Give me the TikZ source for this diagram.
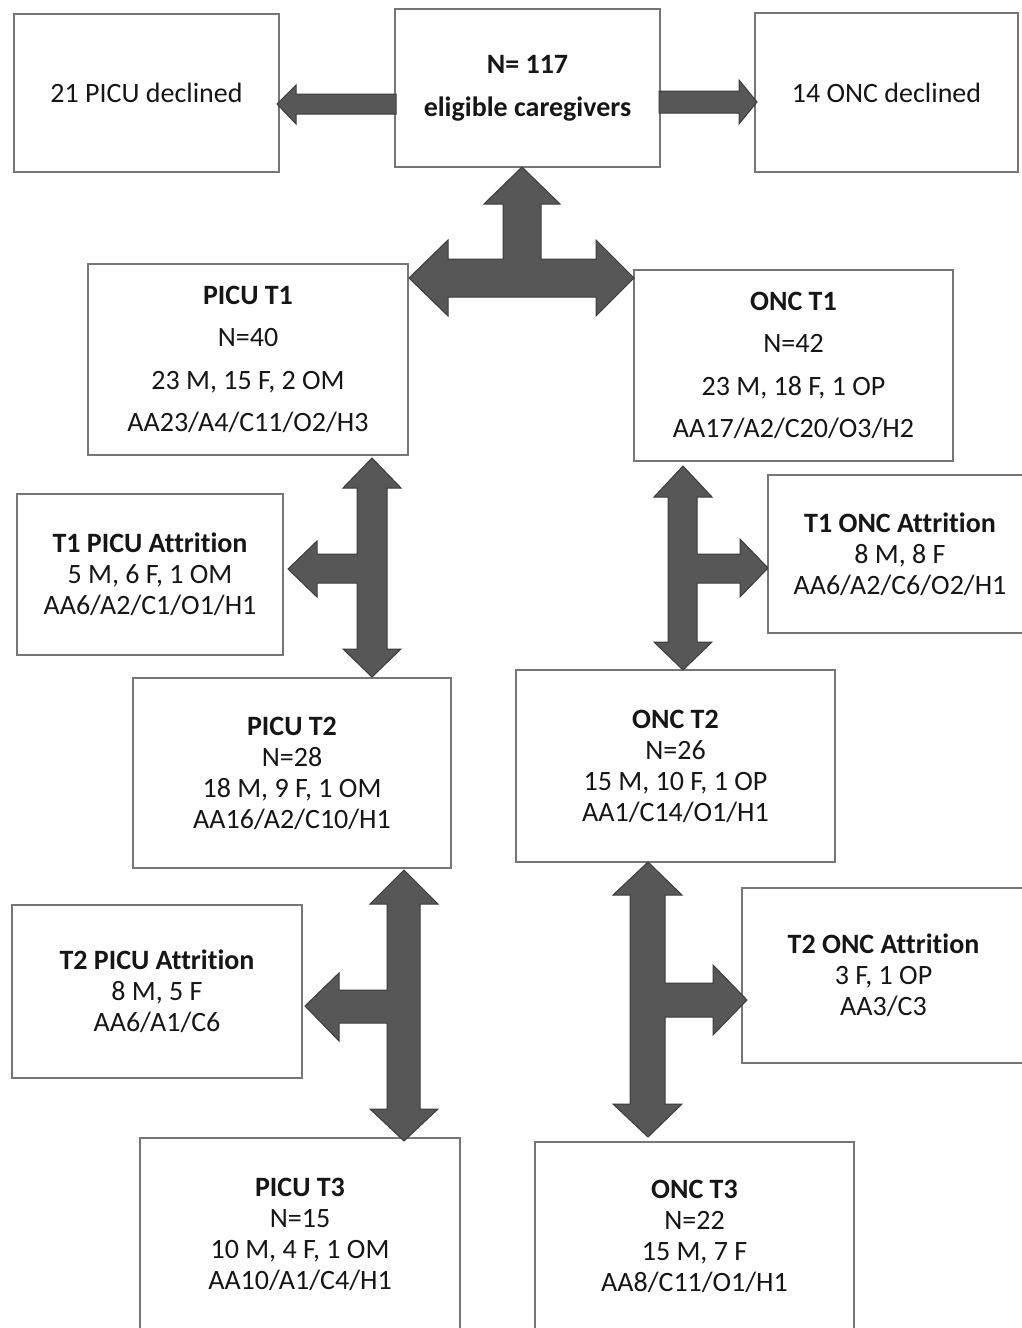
\documentclass[tikz,border=0pt]{standalone}
\usepackage{fontspec}
\setmainfont[Ligatures=CommonOff]{Carlito}
\definecolor{boxgray}{HTML}{767676}
\definecolor{arrowfill}{HTML}{575757}
\definecolor{arrowline}{HTML}{3C3C3C}
\definecolor{txt}{HTML}{161616}
\tikzset{
  box/.style={draw=boxgray, line width=2.2pt, fill=white, inner sep=0pt, align=center, text=txt,
              font=\fontsize{28}{31}\selectfont},
  widebox/.style={box, font=\fontsize{28}{42.5}\selectfont},
  blockarrow/.style={fill=arrowfill, draw=arrowline, line width=1pt, line join=miter}
}
\begin{document}
\begin{tikzpicture}[x=1pt, y=-1pt]
\useasboundingbox[fill=white] (0,0) rectangle (1021,1328);

% top row
\node[box, minimum width=265pt, minimum height=158pt] (dPICU) at (146.5,93) {21 PICU declined};
\node[widebox, minimum width=265pt, minimum height=158pt, font=\fontsize{28}{43}\selectfont] (total) at (527.5,88) {\textbf{N= 117}\\\textbf{eligible caregivers}};
\node[box, minimum width=263pt, minimum height=159pt] (dONC) at (886.5,92.5) {14 ONC declined};

% T1
\node[widebox, minimum width=320pt, minimum height=191pt] (picuA) at (248,359.5) {\textbf{PICU T1}\\N=40\\23 M, 15 F, 2 OM\\AA23/A4/C11/O2/H3};
\node[widebox, minimum width=319pt, minimum height=191pt] (oncA) at (793.5,365.5) {\textbf{ONC T1}\\N=42\\23 M, 18 F, 1 OP\\AA17/A2/C20/O3/H2};

% T1 attrition
\node[box, minimum width=266pt, minimum height=161pt] (attPA) at (150,574.5) {\textbf{T1 PICU Attrition}\\5 M, 6 F, 1 OM\\AA6/A2/C1/O1/H1};
\node[box, minimum width=264pt, minimum height=158pt] (attOA) at (900,554) {\textbf{T1 ONC Attrition}\\8 M, 8 F\\AA6/A2/C6/O2/H1};

% T2
\node[box, minimum width=318pt, minimum height=190pt] (picuB) at (292,773) {\textbf{PICU T2}\\N=28\\18 M, 9 F, 1 OM\\AA16/A2/C10/H1};
\node[box, minimum width=319pt, minimum height=192pt] (oncB) at (675.5,766) {\textbf{ONC T2}\\N=26\\15 M, 10 F, 1 OP\\AA1/C14/O1/H1};

% T2 attrition
\node[box, minimum width=290pt, minimum height=173pt] (attPB) at (157,991.5) {\textbf{T2 PICU Attrition}\\8 M, 5 F\\AA6/A1/C6};
\node[box, minimum width=283pt, minimum height=175pt] (attOB) at (883.5,975.5) {\textbf{T2 ONC Attrition}\\3 F, 1 OP\\AA3/C3};

% T3
\node[box, minimum width=320pt, minimum height=192pt] (picuC) at (300,1234) {\textbf{PICU T3}\\N=15\\10 M, 4 F, 1 OM\\AA10/A1/C4/H1};
\node[box, minimum width=319pt, minimum height=188pt] (oncC) at (694.5,1236) {\textbf{ONC T3}\\N=22\\15 M, 7 F\\AA8/C11/O1/H1};

% arrows: total -> declined
\draw[blockarrow] (396,94)--(296,94)--(296,85)--(277,104)--(296,124)--(296,114)--(396,114)--cycle;
\draw[blockarrow] (659,91)--(739,91)--(739,80)--(757,102)--(739,124)--(739,113)--(659,113)--cycle;

% central three-way arrow total <-> picuA / oncA
\draw[blockarrow] (409,278)--(448,240)--(448,259)--(503,259)--(503,204)--(484,204)--(522,167)--(560,204)--(541,204)--(541,259)--(596,259)--(596,240)--(634,278)--(596,316)--(596,297)--(448,297)--(448,316)--cycle;

% picuA <-> picuB, attPA
\draw[blockarrow] (372,458)--(401,488)--(387,488)--(387,649)--(401,649)--(372,677)--(343,649)--(357,649)--(357,583)--(317,583)--(317,597)--(288,569)--(317,541)--(317,554)--(357,554)--(357,488)--(343,488)--cycle;

% oncA <-> oncB, attOA
\draw[blockarrow] (683,466)--(712,497)--(697,497)--(697,554)--(740,554)--(740,539)--(768,568)--(740,597)--(740,583)--(697,583)--(697,642)--(712,642)--(683,670)--(654,642)--(668,642)--(668,497)--(654,497)--cycle;

% picuB <-> picuC, attPB
\draw[blockarrow] (404,870)--(438,904)--(420,904)--(420,1109)--(438,1109)--(404,1141)--(370,1109)--(387,1109)--(387,1023)--(339,1023)--(339,1041)--(305,1006)--(339,973)--(339,990)--(387,990)--(387,904)--(370,904)--cycle;

% oncB <-> oncC, attOB
\draw[blockarrow] (648,862)--(682,895)--(665,895)--(665,983)--(713,983)--(713,965)--(747,1000)--(713,1035)--(713,1017)--(665,1017)--(665,1104)--(682,1104)--(648,1137)--(613,1104)--(630,1104)--(630,895)--(613,895)--cycle;
\end{tikzpicture}
\end{document}
